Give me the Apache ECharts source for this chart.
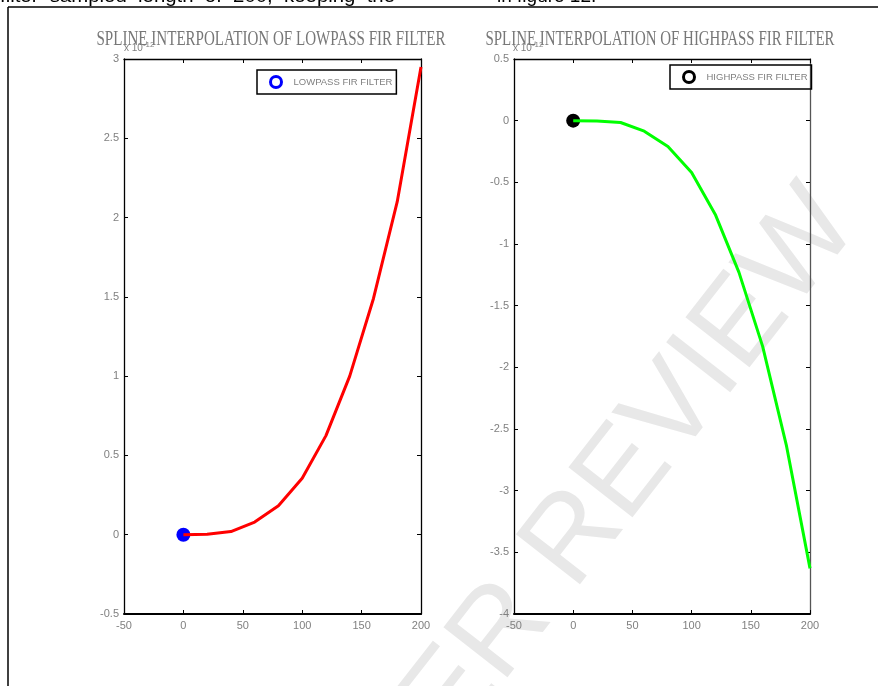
<!DOCTYPE html>
<html><head><meta charset="utf-8">
<script src="https://cdn.jsdelivr.net/npm/echarts@6/dist/echarts.min.js"></script>
<style>html,body{margin:0;padding:0;background:#fff}#c{width:878px;height:686px}</style>
</head><body><div id="c"></div>
<script>
// ---- data (values in units of 1e-12) ----
const xKnots = [0, 20, 40, 60, 80, 100, 120, 140, 160, 180, 200];
const lowpassY = [0, 0.003, 0.02, 0.08, 0.183, 0.356, 0.625, 1.0, 1.49, 2.1, 2.95];
const highpassY = [0, -0.003, -0.015, -0.085, -0.21, -0.42, -0.76, -1.23, -1.83, -2.63, -3.63];
const markerPoint = [[0, 0]];
const xTicks = { min: -50, max: 200, interval: 50 };
const lowTicks = { min: -0.5, max: 3, interval: 0.5 };
const highTicks = { min: -4, max: 0.5, interval: 0.5 };
const titles = ['SPLINE INTERPOLATION OF LOWPASS FIR FILTER', 'SPLINE INTERPOLATION OF HIGHPASS FIR FILTER'];
const legendNames = ['LOWPASS FIR FILTER', 'HIGHPASS FIR FILTER'];
const topTextA = 'filter  sampled  length  of  200,  keeping  the';
const topTextB = 'in figure 12.';

const pairs = ys => xKnots.map((x, i) => [x, ys[i]]);

const tickFont = "'Liberation Sans Narrow','Liberation Sans',Arial,sans-serif";
const gray = '#808080';

function measure(text, font) {
  const c = document.createElement('canvas').getContext('2d');
  c.font = font; return c.measureText(text).width;
}
const titleFont = "20px 'Liberation Serif'";
const titleScale = titles.map(t => 349 / measure(t, titleFont));
const topFont = "19px 'Liberation Sans'";
const topScale = 395 / measure(topTextA, topFont);

function xAx(grid, pos) {
  return {
    type: 'value', gridIndex: grid, position: pos, ...xTicks,
    axisLine: { show: true, onZero: false, lineStyle: { color: '#000', width: pos === 'bottom' ? 2 : 1.3 } },
    axisTick: { show: true, inside: true, length: 4, lineStyle: { color: '#000', width: 1 } },
    axisLabel: { show: pos === 'bottom', color: gray, fontFamily: tickFont, fontSize: 11, margin: 6 },
    splitLine: { show: false }
  };
}
function yAx(grid, pos, t, lineColor) {
  return {
    type: 'value', gridIndex: grid, position: pos, ...t,
    axisLine: { show: true, onZero: false, lineStyle: { color: lineColor || '#000', width: 1.3 } },
    axisTick: { show: true, inside: true, length: 4, lineStyle: { color: '#000', width: 1 } },
    axisLabel: { show: pos === 'left', color: gray, fontFamily: tickFont, fontSize: 11, margin: 5 },
    splitLine: { show: false }
  };
}
function legendOf(name, left, top, color) {
  return {
    left: left, top: top, orient: 'vertical',
    borderColor: '#000', borderWidth: 1.5, padding: [5, 4, 5, 12],
    itemWidth: 11, itemHeight: 11, selectedMode: false,
    textStyle: { color: gray, fontFamily: tickFont, fontSize: 9.5, padding: [0, 0, 0, 7] },
    data: [{ name: name, icon: 'circle', itemStyle: { color: '#fff', borderColor: color, borderWidth: 3, opacity: 1 } }]
  };
}

const chart = echarts.init(document.getElementById('c'), null, { renderer: 'canvas' });
chart.setOption({
  animation: false,
  backgroundColor: '#fff',
  grid: [
    { left: 124, right: 457, top: 59, bottom: 72 },
    { left: 514, right: 68, top: 59, bottom: 72 }
  ],
  xAxis: [xAx(0, 'bottom'), xAx(0, 'top'), xAx(1, 'bottom'), xAx(1, 'top')],
  yAxis: [yAx(0, 'left', lowTicks), yAx(0, 'right', lowTicks), yAx(1, 'left', highTicks), yAx(1, 'right', highTicks, '#555')],
  legend: [legendOf(legendNames[0], 257, 70, '#0000ff'), legendOf(legendNames[1], 670, 65, '#000')],
  graphic: [
    { type: 'text', x: 835, y: 205, rotation: 52 * Math.PI / 180, z: -10, silent: true,
      style: { text: 'FOR PEER REVIEW', font: "118px 'Liberation Sans'", fill: '#e8e8e8', align: 'right', verticalAlign: 'middle' } },
    { type: 'line', shape: { x1: 8, y1: 7, x2: 878, y2: 7 }, style: { stroke: '#000', lineWidth: 1.5 } },
    { type: 'line', shape: { x1: 8, y1: 7, x2: 8, y2: 686 }, style: { stroke: '#000', lineWidth: 1.5 } },
    { type: 'text', x: 0, y: -13, scaleX: topScale, originX: 0, style: { text: topTextA, font: topFont, fill: '#000' } },
    { type: 'text', x: 497, y: -13, style: { text: topTextB, font: topFont, fill: '#000' } },
    { type: 'text', x: 271, y: 40, scaleX: titleScale[0], originX: 0,
      style: { text: titles[0], font: titleFont, fill: '#777', align: 'center', verticalAlign: 'middle' } },
    { type: 'text', x: 660, y: 40, scaleX: titleScale[1], originX: 0,
      style: { text: titles[1], font: titleFont, fill: '#777', align: 'center', verticalAlign: 'middle' } },
    { type: 'text', x: 124, y: 41, style: { text: 'x 10{s|-12}', rich: { s: { fontSize: 8, verticalAlign: 'top', padding: [0, 0, 6, 0], fill: gray } }, font: "10px 'Liberation Sans'", fill: gray } },
    { type: 'text', x: 513, y: 41, style: { text: 'x 10{s|-12}', rich: { s: { fontSize: 8, verticalAlign: 'top', padding: [0, 0, 6, 0], fill: gray } }, font: "10px 'Liberation Sans'", fill: gray } }
  ],
  series: [
    { type: 'scatter', name: legendNames[0], xAxisIndex: 0, yAxisIndex: 0, data: markerPoint, symbolSize: 14, itemStyle: { color: '#0000ff', opacity: 1 }, z: 2 },
    { type: 'line', xAxisIndex: 0, yAxisIndex: 0, data: pairs(lowpassY), showSymbol: false, lineStyle: { color: '#ff0000', width: 3 }, z: 3 },
    { type: 'scatter', name: legendNames[1], xAxisIndex: 2, yAxisIndex: 2, data: markerPoint, symbolSize: 14, itemStyle: { color: '#000', opacity: 1 }, z: 2 },
    { type: 'line', xAxisIndex: 2, yAxisIndex: 2, data: pairs(highpassY), showSymbol: false, lineStyle: { color: '#00ff00', width: 3 }, z: 3 }
  ]
});
</script></body></html>
